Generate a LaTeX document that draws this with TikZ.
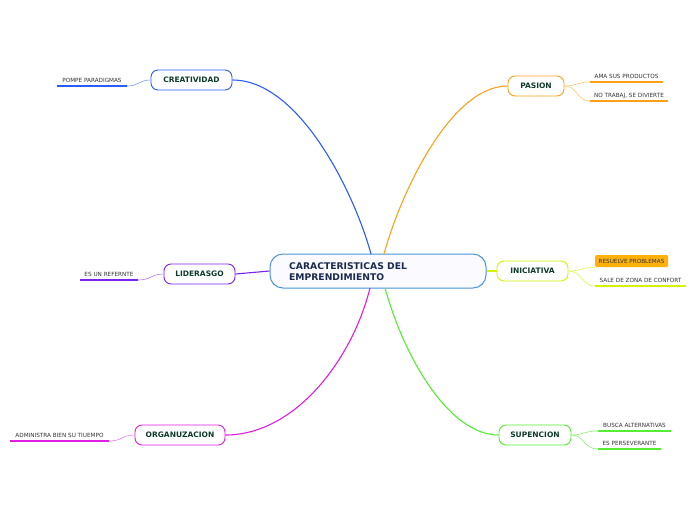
\documentclass[tikz,border=0pt]{standalone}
\usepackage{fontspec}
\setmainfont{DejaVu Sans}
\begin{document}
\begin{tikzpicture}[x=1pt,y=-1pt,
  topic/.style={draw,line width=0.9pt,rounded corners=7pt,fill=white,minimum height=20pt,inner sep=0pt,
     font=\bfseries\fontsize{7.5}{8}\selectfont,text=lbl},
  sub/.style={anchor=south,inner xsep=0pt,inner ysep=3pt,text height=4pt,text depth=0pt,
     font=\fontsize{5.7}{6}\selectfont,text=black!80},
  branch/.style={line width=1.1pt},
  twig/.style={line width=0.6pt},
  uline/.style={line width=1.3pt}
]
\definecolor{lbl}{HTML}{0E3B2C}
\definecolor{navy}{HTML}{1B2A4E}
\definecolor{cblue}{HTML}{2A5CFF}
\definecolor{ccen}{HTML}{4A94DA}
\definecolor{corange}{HTML}{FFA01A}
\definecolor{cyel}{HTML}{D6F200}
\definecolor{cpurp}{HTML}{7A22EE}
\definecolor{cmag}{HTML}{E21EE2}
\definecolor{cgreen}{HTML}{55EE33}
\definecolor{cbox}{HTML}{FFB10A}
\fill[white] (0,0) rectangle (696,520);
\useasboundingbox (0,0) rectangle (696,520);

% central
\node[draw=ccen,line width=1pt,fill=blue!2,rounded corners=13pt,
  minimum width=216pt,minimum height=34pt,inner sep=0pt] (c) at (378,271) {};
\node[anchor=west,align=left,inner sep=0pt,font=\bfseries\fontsize{9.2}{11}\selectfont,text=navy] (ct) at (289,271.5)
  {CARACTERISTICAS DEL\\EMPRENDIMIENTO};
\coordinate (ctop1) at (371,254);
\coordinate (ctop2) at (384,254);
\coordinate (cbot1) at (370,288);
\coordinate (cbot2) at (385,288);

% topics
\node[topic,draw=cblue,minimum width=81pt] (cre) at (191.5,80) {CREATIVIDAD};
\node[topic,draw=corange,minimum width=56pt] (pas) at (536,86) {PASION};
\node[topic,draw=cyel,minimum width=71pt] (ini) at (532.5,271) {INICIATIVA};
\node[topic,draw=cpurp,minimum width=71pt] (lid) at (199.5,274) {LIDERASGO};
\node[topic,draw=cmag,minimum width=90pt] (org) at (180,435) {ORGANUZACION};
\node[topic,draw=cgreen,minimum width=72pt] (sup) at (535,435) {SUPENCION};

% main branches
\draw[branch,cblue] (cre.east) .. controls (300,80) and (355,195) .. (ctop1);
\draw[branch,corange] (ctop2) .. controls (400,195) and (450,86) .. (pas.west);
\draw[branch,cyel] (c.east) -- (ini.west);
\draw[branch,cpurp] (c.west) -- (lid.east);
\draw[branch,cmag] (cbot1) .. controls (352,360) and (295,435) .. (org.east);
\draw[branch,cgreen] (cbot2) .. controls (405,360) and (450,435) .. (sup.west);

% subtopics
\node[sub,minimum width=70pt] (pp) at (92,86) {POMPE PARADIGMAS};
\draw[uline,cblue] (pp.south west) -- (pp.south east);
\draw[twig,cblue!60] (cre.west) .. controls (139,80) and (139,86) .. (pp.south east);

\node[sub,minimum width=73pt] (ama) at (626.5,82) {AMA SUS PRODUCTOS};
\draw[uline,corange] (ama.south west) -- (ama.south east);
\node[sub,minimum width=78pt] (not) at (629,101) {NO TRABAJ, SE DIVIERTE};
\draw[uline,corange] (not.south west) -- (not.south east);
\draw[twig,corange!60] (pas.east) .. controls (577,86) and (577,82) .. (ama.south west);
\draw[twig,corange!60] (pas.east) .. controls (577,86) and (577,101) .. (not.south west);

\node[fill=cbox,rounded corners=1.5pt,minimum width=73pt,minimum height=12pt,inner sep=0pt,
  font=\fontsize{5.7}{6}\selectfont,text=black!80] (res) at (631.5,261) {RESUELVE PROBLEMAS};
\node[sub,minimum width=91pt] (sal) at (640.5,286) {SALE DE ZONA DE CONFORT};
\draw[uline,cyel] (sal.south west) -- (sal.south east);
\draw[twig,cyel!70] (ini.east) .. controls (582,271) and (582,267) .. (res.south west);
\draw[twig,cyel!70] (ini.east) .. controls (582,271) and (582,286) .. (sal.south west);

\node[sub,minimum width=58pt] (ref) at (109,280) {ES UN REFERNTE};
\draw[uline,cpurp] (ref.south west) -- (ref.south east);
\draw[twig,cpurp!60] (lid.west) .. controls (151,274) and (151,280) .. (ref.south east);

\node[sub,minimum width=99pt] (adm) at (59.5,441) {ADMINISTRA BIEN SU TIUEMPO};
\draw[uline,cmag] (adm.south west) -- (adm.south east);
\draw[twig,cmag!60] (org.west) .. controls (122,435) and (122,441) .. (adm.south east);

\node[sub,minimum width=73pt] (bus) at (634.5,431) {BUSCA ALTERNATIVAS};
\draw[uline,cgreen] (bus.south west) -- (bus.south east);
\node[sub,minimum width=63pt] (per) at (629.5,449) {ES PERSEVERANTE};
\draw[uline,cgreen] (per.south west) -- (per.south east);
\draw[twig,cgreen!70] (sup.east) .. controls (584,435) and (584,431) .. (bus.south west);
\draw[twig,cgreen!70] (sup.east) .. controls (584,435) and (584,449) .. (per.south west);
\end{tikzpicture}
\end{document}
